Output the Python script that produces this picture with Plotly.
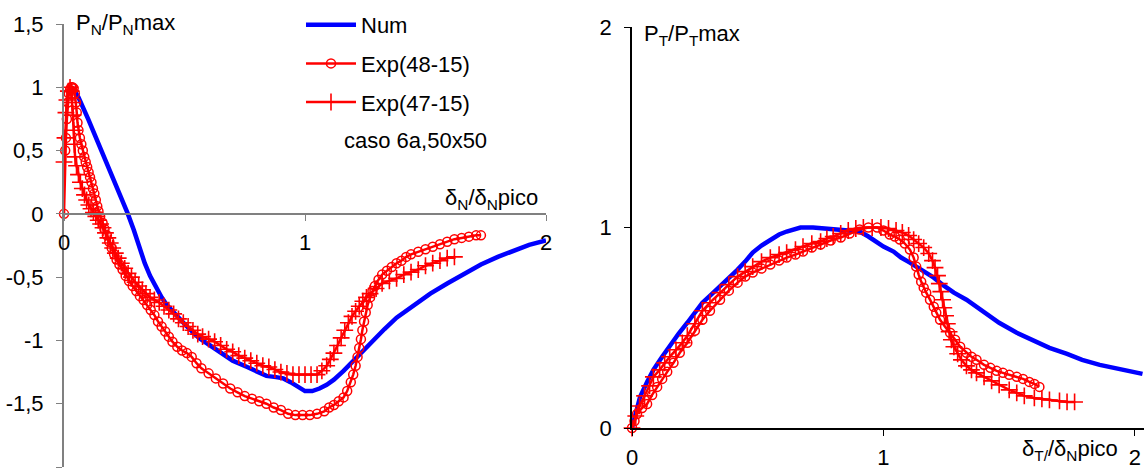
import plotly.graph_objects as go

# ---------------- data: left chart (normal) ----------------
num_n_x = [0.035, 0.06, 0.1, 0.14, 0.18, 0.22, 0.265, 0.29, 0.315, 0.335, 0.357, 0.38, 0.405, 0.427, 0.47, 0.51,
           0.56, 0.606, 0.65, 0.7, 0.76, 0.8, 0.84, 0.88, 0.91, 0.94, 0.97, 1.0, 1.03, 1.06, 1.09, 1.12,
           1.16, 1.2, 1.24, 1.28, 1.33, 1.38, 1.45, 1.52, 1.59, 1.66, 1.73, 1.8, 1.87, 1.93, 2.0]
num_n_y = [1.0, 0.92, 0.75, 0.57, 0.4, 0.22, 0.0, -0.13, -0.28, -0.39, -0.49, -0.58, -0.66, -0.72, -0.81, -0.89,
           -0.98, -1.04, -1.1, -1.16, -1.21, -1.25, -1.28, -1.29, -1.3, -1.33, -1.37, -1.4, -1.4, -1.38, -1.35, -1.31,
           -1.24, -1.16, -1.09, -1.01, -0.91, -0.82, -0.72, -0.63, -0.55, -0.47, -0.4, -0.34, -0.29, -0.245, -0.21]

exp48_n_x = [0, 0.005, 0.008, 0.012, 0.016, 0.02, 0.025, 0.03, 0.035, 0.04, 0.045, 0.05, 0.053, 0.056, 0.06,
             0.066, 0.072, 0.078, 0.084, 0.09, 0.096, 0.102, 0.108, 0.114, 0.12, 0.126, 0.132, 0.138, 0.143,
             0.15, 0.16, 0.168, 0.178, 0.188, 0.198, 0.208, 0.218, 0.23, 0.243, 0.256, 0.27, 0.285, 0.3,
             0.315, 0.33, 0.345, 0.36, 0.375, 0.39, 0.405, 0.42, 0.435, 0.45, 0.47, 0.49, 0.51, 0.53, 0.55,
             0.57, 0.6, 0.63, 0.66, 0.69, 0.72, 0.75, 0.78, 0.81, 0.84, 0.87, 0.9, 0.93, 0.96, 0.99, 1.02,
             1.05, 1.08, 1.1, 1.12, 1.14, 1.16, 1.175, 1.19, 1.2, 1.21, 1.218, 1.225, 1.232, 1.238, 1.245,
             1.252, 1.26, 1.27, 1.28, 1.29, 1.305, 1.32, 1.34, 1.36, 1.38, 1.4, 1.42, 1.44, 1.47, 1.5, 1.53,
             1.56, 1.59, 1.62, 1.65, 1.68, 1.71, 1.73]
exp48_n_y = [0, 0.5, 0.6, 0.75, 0.88, 0.95, 0.98, 1.0, 1.0, 0.99, 0.95, 0.88, 0.8, 0.72, 0.66,
             0.6, 0.55, 0.5, 0.45, 0.41, 0.37, 0.33, 0.29, 0.25, 0.2, 0.16, 0.11, 0.06, 0.02,
             -0.02, -0.07, -0.12, -0.17, -0.22, -0.27, -0.32, -0.36, -0.4, -0.44, -0.49, -0.53, -0.57, -0.61,
             -0.65, -0.68, -0.72, -0.76, -0.8, -0.85, -0.89, -0.93, -0.97, -1.01, -1.05, -1.08, -1.1, -1.13, -1.18,
             -1.22, -1.26, -1.3, -1.34, -1.38, -1.41, -1.44, -1.46, -1.48, -1.5, -1.53, -1.55, -1.58, -1.59, -1.59, -1.59,
             -1.58, -1.56, -1.53, -1.51, -1.48, -1.45, -1.4, -1.33, -1.27, -1.2, -1.13, -1.06, -0.99, -0.92, -0.85,
             -0.78, -0.72, -0.66, -0.61, -0.57, -0.52, -0.48, -0.45, -0.42, -0.39, -0.37, -0.34, -0.32, -0.3, -0.28, -0.26,
             -0.24, -0.22, -0.2, -0.19, -0.18, -0.17, -0.17]

exp47_n_x = [0, 0.004, 0.008, 0.012, 0.018, 0.025, 0.03, 0.034, 0.037, 0.04, 0.043, 0.046, 0.052, 0.06,
             0.068, 0.076, 0.085, 0.094, 0.103, 0.112, 0.122, 0.132, 0.142, 0.152, 0.162, 0.172, 0.182, 0.192,
             0.202, 0.213, 0.225, 0.238, 0.252, 0.266, 0.28, 0.295, 0.31, 0.325, 0.34, 0.357, 0.375, 0.395,
             0.415, 0.435, 0.455, 0.475, 0.495, 0.515, 0.535, 0.555, 0.575, 0.6, 0.625, 0.65, 0.675, 0.7,
             0.725, 0.75, 0.775, 0.8, 0.825, 0.85, 0.875, 0.9, 0.925, 0.95, 0.975, 1.0, 1.025, 1.05, 1.07,
             1.09, 1.105, 1.12, 1.135, 1.15, 1.165, 1.18, 1.195, 1.21, 1.225, 1.24, 1.255, 1.27, 1.295, 1.32,
             1.35, 1.38, 1.41, 1.44, 1.47, 1.5, 1.53, 1.56, 1.59, 1.62]
exp47_n_y = [0.41, 0.6, 0.8, 0.9, 0.97, 1.0, 0.97, 0.88, 0.78, 0.66, 0.55, 0.45, 0.38, 0.31,
             0.25, 0.2, 0.15, 0.11, 0.07, 0.04, 0.01, -0.02, -0.05, -0.08, -0.11, -0.15, -0.19, -0.23,
             -0.27, -0.31, -0.35, -0.39, -0.43, -0.47, -0.5, -0.54, -0.57, -0.6, -0.63, -0.66, -0.68, -0.7,
             -0.73, -0.76, -0.79, -0.83, -0.86, -0.89, -0.92, -0.95, -0.97, -0.99, -1.01, -1.04, -1.07, -1.09,
             -1.12, -1.14, -1.16, -1.18, -1.2, -1.21, -1.23, -1.25, -1.26, -1.27, -1.27, -1.27, -1.27, -1.27, -1.24,
             -1.2, -1.15, -1.1, -1.04, -0.98, -0.92, -0.86, -0.81, -0.77, -0.73, -0.69, -0.66, -0.63, -0.59, -0.55,
             -0.53, -0.51, -0.48, -0.46, -0.44, -0.41, -0.39, -0.37, -0.35, -0.34]

# ---------------- data: right chart (tangential) ----------------
num_t_x = [0, 0.015, 0.032, 0.06, 0.085, 0.12, 0.15, 0.185, 0.22, 0.25, 0.28, 0.315, 0.35, 0.385, 0.42,
           0.45, 0.48, 0.515, 0.55, 0.585, 0.615, 0.65, 0.67, 0.72, 0.8, 0.86, 0.905, 0.94, 0.97, 1.0,
           1.04, 1.07, 1.105, 1.15, 1.2, 1.24, 1.28, 1.33, 1.37, 1.42, 1.46, 1.53, 1.6, 1.66, 1.73, 1.79,
           1.86, 1.93, 2.03]
num_t_y = [0.0, 0.08, 0.155, 0.23, 0.29, 0.355, 0.41, 0.47, 0.525, 0.575, 0.625, 0.665, 0.705, 0.75, 0.79,
           0.83, 0.875, 0.91, 0.94, 0.965, 0.98, 0.995, 1.0, 1.0, 0.99, 0.985, 0.98, 0.955, 0.93, 0.905,
           0.88, 0.85, 0.825, 0.79, 0.75, 0.71, 0.675, 0.64, 0.605, 0.56, 0.525, 0.475, 0.435, 0.4, 0.37, 0.34,
           0.315, 0.295, 0.27]

exp48_t_x = [0, 0.01, 0.02, 0.04, 0.06, 0.08, 0.1, 0.12, 0.14, 0.165, 0.19, 0.22, 0.25, 0.28, 0.31, 0.35,
             0.385, 0.42, 0.45, 0.48, 0.515, 0.55, 0.585, 0.615, 0.65, 0.68, 0.715, 0.75, 0.79, 0.83, 0.865,
             0.905, 0.94, 0.975, 1.0, 1.025, 1.045, 1.065, 1.085, 1.105, 1.12, 1.13, 1.14, 1.15, 1.16, 1.17,
             1.185, 1.2, 1.21, 1.225, 1.245, 1.265, 1.285, 1.305, 1.33, 1.35, 1.37, 1.4, 1.425, 1.45, 1.475,
             1.5, 1.53, 1.555, 1.58, 1.6, 1.62]
exp48_t_y = [0, 0.035, 0.07, 0.1, 0.12, 0.165, 0.205, 0.245, 0.28, 0.325, 0.375, 0.425, 0.485, 0.54, 0.585, 0.64,
             0.685, 0.725, 0.755, 0.775, 0.795, 0.815, 0.835, 0.85, 0.865, 0.88, 0.9, 0.915, 0.935, 0.95, 0.97,
             0.99, 1.0, 1.0, 0.985, 0.965, 0.955, 0.94, 0.92, 0.89, 0.85, 0.805, 0.765, 0.73, 0.7, 0.675,
             0.64, 0.605, 0.575, 0.54, 0.505, 0.475, 0.44, 0.405, 0.375, 0.355, 0.34, 0.315, 0.3, 0.285, 0.275,
             0.265, 0.255, 0.245, 0.23, 0.22, 0.205]

exp47_t_x = [0, 0.015, 0.03, 0.05, 0.07, 0.085, 0.11, 0.13, 0.15, 0.175, 0.2, 0.22, 0.25, 0.28, 0.31, 0.35,
             0.385, 0.42, 0.45, 0.48, 0.515, 0.55, 0.585, 0.615, 0.65, 0.68, 0.715, 0.75, 0.775, 0.8, 0.83,
             0.86, 0.89, 0.92, 0.955, 0.99, 1.02, 1.05, 1.075, 1.1, 1.12, 1.14, 1.16, 1.18, 1.195, 1.205,
             1.215, 1.222, 1.228, 1.235, 1.24, 1.247, 1.254, 1.261, 1.27, 1.28, 1.295, 1.31, 1.33, 1.35, 1.37,
             1.4, 1.43, 1.46, 1.5, 1.53, 1.56, 1.6, 1.63, 1.66, 1.7, 1.73, 1.76]
exp47_t_y = [0.0, 0.06, 0.11, 0.16, 0.21, 0.255, 0.29, 0.325, 0.355, 0.39, 0.425, 0.46, 0.52, 0.585, 0.625, 0.675,
             0.715, 0.755, 0.78, 0.805, 0.83, 0.85, 0.865, 0.875, 0.89, 0.905, 0.92, 0.93, 0.945, 0.955, 0.97,
             0.985, 0.995, 1.0, 1.0, 1.0, 0.995, 0.985, 0.975, 0.96, 0.94, 0.92, 0.9, 0.87, 0.835, 0.8,
             0.76, 0.72, 0.68, 0.64, 0.6, 0.56, 0.52, 0.48, 0.44, 0.405, 0.37, 0.34, 0.31, 0.29, 0.275,
             0.255, 0.235, 0.215, 0.19, 0.175, 0.16, 0.15, 0.145, 0.14, 0.135, 0.13, 0.13]

# tick labels
left_y_ticks = [-2, -1.5, -1, -0.5, 0, 0.5, 1, 1.5]
left_y_labels = ["-2", "-1,5", "-1", "-0,5", "0", "0,5", "1", "1,5"]
x_ticks = [0, 1, 2]
x_labels = ["0", "1", "2"]
right_y_ticks = [0, 1, 2]
right_y_labels = ["0", "1", "2"]

FONT = "Liberation Sans, Arial, sans-serif"
FS = 22
BLUE = "#0000FF"
RED = "#FF0000"
GRAY = "#808080"

fig = go.Figure()

# left chart traces
fig.add_trace(go.Scatter(x=num_n_x, y=num_n_y, mode="lines", name="Num",
                         line=dict(color=BLUE, width=4.5), xaxis="x", yaxis="y",
                         legendgroup="a", cliponaxis=False))
fig.add_trace(go.Scatter(x=exp48_n_x, y=exp48_n_y, mode="lines+markers", name="Exp(48-15)",
                         line=dict(color=RED, width=2.5),
                         marker=dict(symbol="circle-open", size=9, color=RED, line=dict(width=1.5, color=RED)),
                         xaxis="x", yaxis="y", legendgroup="b", cliponaxis=False))
fig.add_trace(go.Scatter(x=exp47_n_x, y=exp47_n_y, mode="lines+markers", name="Exp(47-15)",
                         line=dict(color=RED, width=2.5),
                         marker=dict(symbol="cross-thin-open", size=12, color=RED, line=dict(width=1.6, color=RED)),
                         xaxis="x", yaxis="y", legendgroup="c", cliponaxis=False))

# right chart traces
fig.add_trace(go.Scatter(x=num_t_x, y=num_t_y, mode="lines", name="Num", showlegend=False,
                         line=dict(color=BLUE, width=4.5), xaxis="x2", yaxis="y2", cliponaxis=False))
fig.add_trace(go.Scatter(x=exp48_t_x, y=exp48_t_y, mode="lines+markers", name="Exp(48-15)", showlegend=False,
                         line=dict(color=RED, width=2.5),
                         marker=dict(symbol="circle-open", size=9, color=RED, line=dict(width=1.5, color=RED)),
                         xaxis="x2", yaxis="y2", cliponaxis=False))
fig.add_trace(go.Scatter(x=exp47_t_x, y=exp47_t_y, mode="lines+markers", name="Exp(47-15)", showlegend=False,
                         line=dict(color=RED, width=2.5),
                         marker=dict(symbol="cross-thin-open", size=12, color=RED, line=dict(width=1.6, color=RED)),
                         xaxis="x2", yaxis="y2", cliponaxis=False))

W, H = 1144, 476
left_x0, left_x1 = 64, 546
left_y_top, left_y_bot = 24, 467
right_x0, right_x1 = 632, 1144
right_y_top, right_y_bot = 27, 428
left_zero_px = 214

common_axis = dict(showgrid=False, zeroline=False, showline=True, ticks="outside", ticklen=6,
                   automargin=False, tickfont=dict(family=FONT, size=FS, color="black"))

fig.update_layout(
    width=W, height=H,
    margin=dict(l=0, r=0, t=0, b=0, autoexpand=False),
    paper_bgcolor="white", plot_bgcolor="white",
    font=dict(family=FONT, size=FS, color="black"),
    xaxis=dict(domain=[left_x0 / W, left_x1 / W], range=[0, 2], anchor="free",
               position=1 - left_zero_px / H, tickvals=x_ticks, ticktext=x_labels,
               linecolor=GRAY, tickcolor=GRAY, linewidth=2, ticklabelstandoff=3, **common_axis),
    yaxis=dict(domain=[1 - left_y_bot / H, 1 - left_y_top / H], range=[-2, 1.5], anchor="x",
               tickvals=left_y_ticks, ticktext=left_y_labels,
               linecolor=GRAY, tickcolor=GRAY, linewidth=2, ticklabelstandoff=8, **common_axis),
    xaxis2=dict(domain=[right_x0 / W, right_x1 / W], range=[0, 2.036], anchor="y2",
                tickvals=x_ticks, ticktext=x_labels,
                linecolor="black", tickcolor="black", linewidth=1.5, ticklabelstandoff=3, **common_axis),
    yaxis2=dict(domain=[1 - right_y_bot / H, 1 - right_y_top / H], range=[0, 2], anchor="x2",
                tickvals=right_y_ticks, ticktext=right_y_labels,
                linecolor="black", tickcolor="black", linewidth=1.5, ticklabelstandoff=8, **common_axis),
    showlegend=True,
    legend=dict(x=301 / W, y=1 - 4 / H, xanchor="left", yanchor="top",
                bgcolor="rgba(0,0,0,0)", font=dict(family=FONT, size=FS, color="black"),
                tracegroupgap=7, itemwidth=50, traceorder="grouped"),
)

ann = [
    dict(text="P<sub>N</sub>/P<sub>N</sub>max", x=74 / W, y=1 - 24 / H, xanchor="left", yanchor="middle"),
    dict(text="δ<sub>N</sub>/δ<sub>N</sub>pico", x=540 / W, y=1 - 199 / H, xanchor="right", yanchor="middle"),
    dict(text="caso 6a,50x50", x=415 / W, y=1 - 140 / H, xanchor="center", yanchor="middle"),
    dict(text="P<sub>T</sub>/P<sub>T</sub>max", x=642 / W, y=1 - 35 / H, xanchor="left", yanchor="middle"),
    dict(text="δ<sub>T/</sub>/δ<sub>N</sub>pico", x=1120 / W, y=1 - 450 / H, xanchor="right", yanchor="middle"),
]
for a in ann:
    fig.add_annotation(xref="paper", yref="paper", showarrow=False,
                       font=dict(family=FONT, size=FS, color="black"), **a)

fig.write_html("out.html")
